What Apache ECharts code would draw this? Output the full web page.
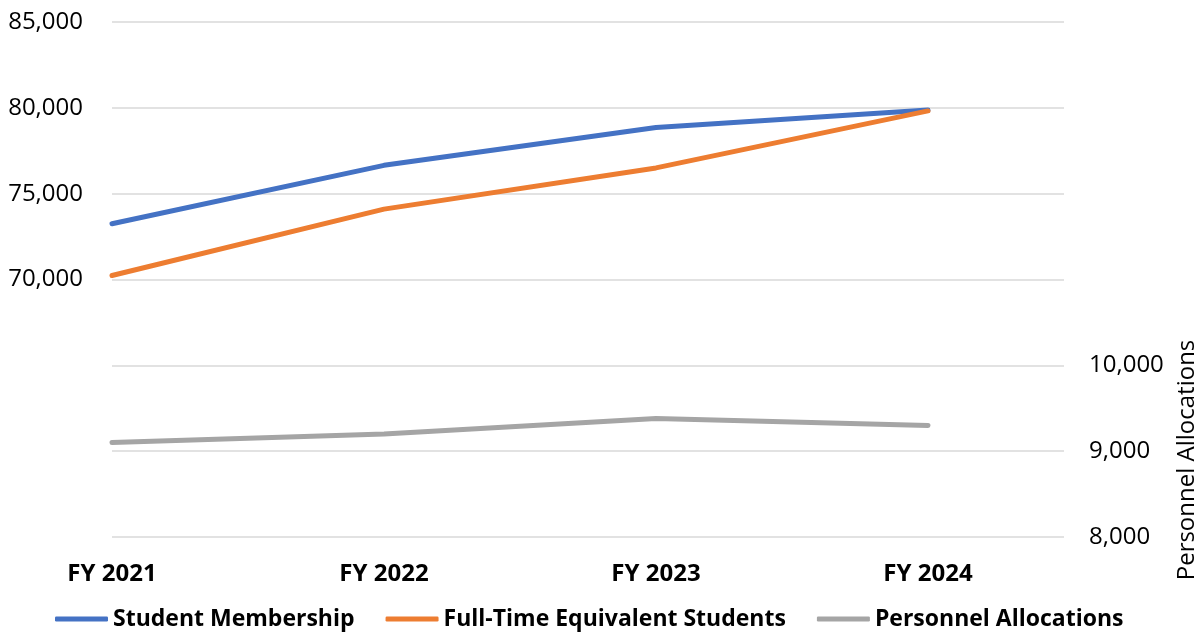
<!DOCTYPE html>
<html>
<head>
<meta charset="utf-8">
<title>Enrollment and Personnel Allocations, FY 2021 to FY 2024</title>
<script src="https://cdn.jsdelivr.net/npm/echarts@6/dist/echarts.min.js"></script>
<style>
  html, body { margin: 0; padding: 0; background: #ffffff; }
  #chart { width: 1201px; height: 632px; }
</style>
</head>
<body>
<div id="chart"></div>
<script>
// Fiscal years on the horizontal axis
const categories = ['FY 2021', 'FY 2022', 'FY 2023', 'FY 2024'];

// Left axis series
const studentMembership = [73250, 76650, 78850, 79870];
const fteStudents = [70230, 74100, 76500, 79820];

// Right axis series
const personnelAllocations = [9100, 9200, 9380, 9300];

const seriesNames = ['Student Membership', 'Full-Time Equivalent Students', 'Personnel Allocations'];
const rightAxisName = 'Personnel Allocations';

const FONT = '"Open Sans", "Liberation Sans", sans-serif';

const fmt = v => v.toLocaleString('en-US');
const toPoints = arr => arr.map((v, i) => [i, v]);

const chart = echarts.init(document.getElementById('chart'), null, { renderer: 'canvas' });

chart.setOption({
  animation: false,
  backgroundColor: '#ffffff',
  color: ['#4472C4', '#ED7D31', '#A5A5A5'],
  grid: { left: 112, right: 137, top: 22, bottom: 95, containLabel: false },
  xAxis: {
    type: 'value',
    min: 0,
    max: 3.5,
    interval: 1,
    axisLine: { show: false },
    axisTick: { show: false },
    splitLine: { show: false },
    axisLabel: {
      margin: 25,
      fontFamily: FONT,
      fontSize: 24,
      fontWeight: 'bold',
      color: '#000000',
      showMaxLabel: false,
      formatter: v => (Number.isInteger(v) && categories[v] !== undefined) ? categories[v] : ''
    }
  },
  yAxis: [
    {
      type: 'value',
      min: 55000,
      max: 85000,
      interval: 5000,
      axisLine: { show: false },
      axisTick: { show: false },
      splitLine: { show: true, lineStyle: { color: '#D9D9D9', width: 1.5 } },
      axisLabel: {
        margin: 29,
        fontFamily: FONT,
        fontSize: 24,
        color: '#000000',
        formatter: v => (v >= 70000 ? fmt(v) : '')
      }
    },
    {
      type: 'value',
      min: 8000,
      max: 14000,
      interval: 1000,
      position: 'right',
      axisLine: { show: false },
      axisTick: { show: false },
      splitLine: { show: false },
      axisLabel: {
        margin: 25,
        fontFamily: FONT,
        fontSize: 24,
        color: '#000000',
        formatter: v => (v <= 10000 ? fmt(v) : '')
      }
    }
  ],
  legend: {
    data: seriesNames,
    left: 50,
    top: 601,
    itemWidth: 53,
    itemHeight: 5,
    itemGap: 31,
    icon: 'roundRect',
    textStyle: {
      fontFamily: FONT,
      fontSize: 23,
      fontWeight: 'bold',
      color: '#000000',
      lineHeight: 26,
      padding: [0, 0, 0, 0]
    }
  },
  graphic: [
    {
      type: 'text',
      x: 1187,
      y: 460,
      rotation: Math.PI / 2,
      style: {
        text: rightAxisName,
        fontFamily: FONT,
        fontSize: 24,
        fill: '#000000',
        align: 'center',
        verticalAlign: 'middle'
      }
    }
  ],
  series: [
    {
      name: seriesNames[0],
      type: 'line',
      yAxisIndex: 0,
      symbol: 'none',
      lineStyle: { width: 5, cap: 'round', join: 'round' },
      data: toPoints(studentMembership)
    },
    {
      name: seriesNames[1],
      type: 'line',
      yAxisIndex: 0,
      symbol: 'none',
      lineStyle: { width: 5, cap: 'round', join: 'round' },
      data: toPoints(fteStudents)
    },
    {
      name: seriesNames[2],
      type: 'line',
      yAxisIndex: 1,
      symbol: 'none',
      lineStyle: { width: 5, cap: 'round', join: 'round' },
      data: toPoints(personnelAllocations)
    }
  ]
});
</script>
</body>
</html>
